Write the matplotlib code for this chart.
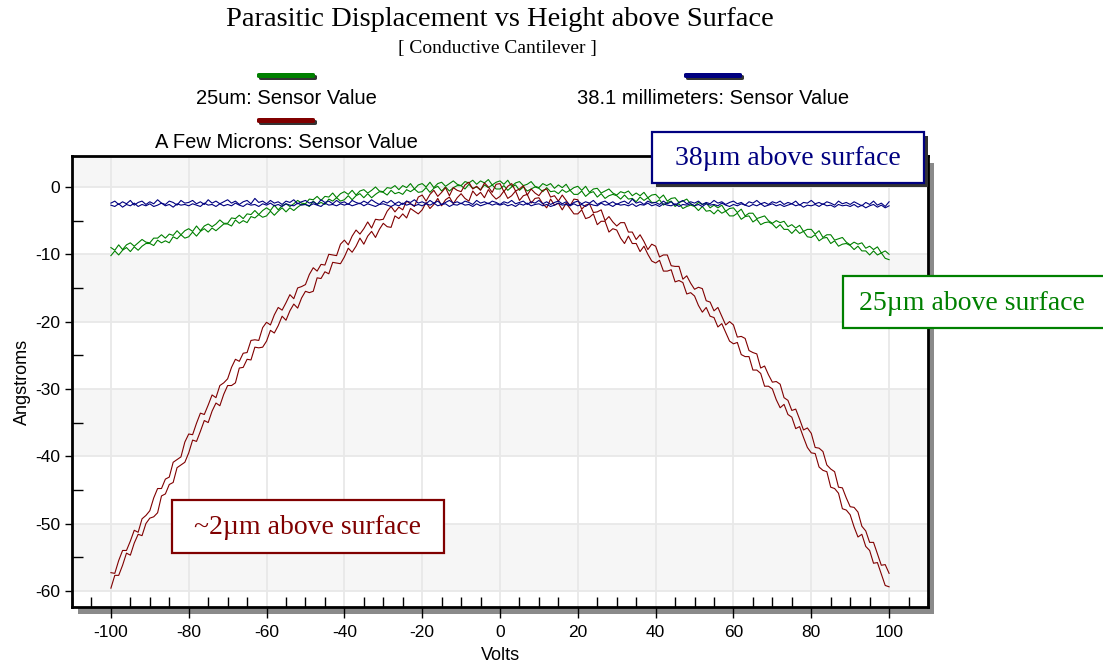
import numpy as np
import matplotlib
matplotlib.use("Agg")
import matplotlib.pyplot as plt
from matplotlib.patches import Rectangle, FancyBboxPatch
from matplotlib.ticker import MultipleLocator

# sweep voltage, one reading per volt
volts = np.arange(-100, 101, 1)

# 38.1 mm above surface (two sweeps)
blue_a = [-2.4, -2.1, -2.6, -2.2, -2.5, -2.0, -2.7, -2.3, -2.1, -2.6,
          -2.2, -2.5, -1.9, -2.4, -2.6, -2.1, -2.3, -2.7, -2.0, -2.4,
          -2.3, -2.0, -2.5, -2.2, -2.6, -1.9, -2.4, -2.1, -2.5, -2.2,
          -1.9, -2.4, -2.1, -2.6, -2.2, -2.0, -2.5, -1.7, -2.3, -2.1,
          -2.5, -2.0, -2.4, -2.2, -2.6, -2.1, -2.3, -1.9, -2.5, -2.2,
          -2.0, -2.4, -2.2, -2.6, -1.9, -2.3, -2.1, -2.5, -2.0, -2.4,
          -2.2, -2.6, -2.0, -2.3, -2.5, -2.1, -2.4, -1.9, -2.3, -2.6,
          -2.1, -2.4, -2.0, -2.5, -2.2, -2.6, -2.1, -2.3, -1.9, -2.4,
          -2.2, -2.5, -2.0, -2.4, -2.1, -2.6, -2.3, -2.0, -2.4, -2.2,
          -2.5, -2.1, -2.3, -2.6, -2.0, -2.4, -2.2, -2.5, -2.1, -2.3,
          -2.6, -2.2, -2.4, -2.0, -2.5, -2.3, -2.1, -2.6, -2.2, -2.4,
          -2.0, -2.5, -2.2, -2.6, -2.3, -2.1, -2.5, -2.2, -2.7, -2.3,
          -2.1, -2.5, -2.2, -2.4, -2.0, -2.6, -2.3, -2.1, -2.5, -2.2,
          -2.6, -2.3, -2.1, -2.5, -1.8, -2.4, -2.2, -2.6, -2.1, -2.4,
          -2.3, -2.6, -2.1, -2.5, -2.2, -2.7, -2.3, -2.0, -2.5, -2.2,
          -2.4, -2.1, -2.6, -2.3, -2.5, -2.0, -2.4, -2.2, -2.6, -2.3,
          -2.1, -2.5, -2.3, -2.7, -2.2, -2.4, -2.0, -2.5, -2.3, -2.6,
          -2.2, -2.4, -2.1, -2.6, -2.3, -2.5, -2.1, -2.7, -2.3, -2.4,
          -2.0, -2.5, -2.3, -2.6, -2.2, -2.4, -2.7, -2.1, -2.5, -2.3,
          -2.6, -2.2, -2.5, -2.8, -2.3, -2.6, -2.1, -2.7, -2.4, -2.9,
          -2.2]
blue_b = [-2.7, -2.9, -2.5, -3.0, -2.6, -2.8, -2.4, -2.9, -2.6, -2.8,
          -2.5, -2.9, -2.7, -2.4, -2.8, -2.6, -3.0, -2.5, -2.7, -2.6,
          -2.8, -2.5, -2.7, -2.9, -2.4, -2.7, -2.6, -2.9, -2.5, -2.8,
          -2.6, -2.8, -2.4, -2.7, -2.9, -2.5, -2.7, -2.6, -2.9, -2.5,
          -2.7, -2.4, -2.8, -2.6, -2.9, -2.5, -2.7, -2.8, -2.4, -2.7,
          -2.6, -2.8, -2.5, -2.7, -2.9, -2.4, -2.7, -2.6, -2.8, -2.5,
          -2.7, -2.5, -2.8, -2.6, -2.4, -2.8, -2.5, -2.7, -2.9, -2.6,
          -2.5, -2.7, -2.9, -2.6, -2.8, -2.4, -2.7, -2.5, -2.8, -2.6,
          -2.8, -2.5, -2.7, -2.4, -2.8, -2.6, -2.5, -2.9, -2.6, -2.7,
          -2.4, -2.7, -2.6, -2.9, -2.5, -2.8, -2.6, -2.4, -2.7, -2.5,
          -2.7, -2.5, -2.8, -2.6, -2.9, -2.5, -2.7, -2.4, -2.8, -2.6,
          -2.5, -2.8, -2.6, -2.9, -2.7, -2.4, -2.7, -2.6, -2.8, -2.5,
          -2.8, -2.6, -2.9, -2.5, -2.7, -2.8, -2.4, -2.7, -2.6, -2.9,
          -2.5, -2.7, -2.6, -2.8, -2.5, -2.9, -2.6, -2.7, -2.4, -2.8,
          -2.6, -2.9, -2.5, -2.7, -2.8, -2.5, -2.9, -2.6, -2.7, -2.5,
          -2.8, -2.6, -2.9, -2.5, -2.7, -2.6, -2.8, -2.4, -2.7, -2.9,
          -2.6, -2.8, -2.5, -2.7, -2.9, -2.6, -2.8, -2.5, -2.9, -2.7,
          -2.5, -2.8, -2.6, -2.9, -2.7, -2.5, -2.8, -2.6, -3.0, -2.7,
          -2.8, -2.6, -2.9, -2.5, -2.8, -2.7, -3.0, -2.6, -2.8, -2.7,
          -2.9, -2.6, -3.0, -2.7, -3.1, -2.8, -2.6, -3.0, -2.7, -3.1,
          -2.8]

# 25 um above surface
green_a = [-9.0, -9.4, -8.6, -9.3, -8.6, -8.3, -8.8, -8.3, -7.8, -8.2,
           -8.3, -7.6, -7.6, -7.1, -7.6, -7.0, -7.2, -6.5, -7.1, -6.5,
           -6.2, -6.6, -5.8, -6.5, -5.8, -5.5, -5.9, -5.5, -4.9, -5.4,
           -5.4, -4.6, -4.7, -4.2, -4.7, -4.0, -4.1, -3.5, -4.1, -3.5,
           -3.1, -3.5, -2.7, -3.4, -2.8, -2.5, -2.9, -2.5, -2.0, -2.4,
           -2.5, -1.8, -1.9, -1.4, -2.0, -1.4, -1.5, -0.9, -1.6, -1.0,
           -0.7, -1.1, -0.5, -1.2, -0.6, -0.4, -0.9, -0.5, 0.0, -0.6,
           -0.7, -0.1, -0.2, 0.2, -0.4, 0.2, -0.1, 0.5, -0.3, 0.3,
           0.5, 0.0, 0.7, -0.1, 0.5, 0.7, 0.1, 0.5, 0.9, 0.4,
           0.2, 0.8, 0.6, 1.0, 0.4, 0.9, 0.6, 1.1, 0.3, 0.7,
           0.9, 0.4, 1.0, 0.1, 0.6, 0.8, 0.2, 0.4, 0.8, 0.1,
           -0.1, 0.5, 0.2, 0.5, -0.2, 0.3, -0.1, 0.4, -0.5, -0.1,
           0.1, -0.5, 0.1, -0.8, -0.3, -0.2, -0.9, -0.6, -0.3, -0.9,
           -1.2, -0.7, -0.9, -0.6, -1.3, -0.9, -1.3, -0.8, -1.6, -1.2,
           -1.1, -1.7, -1.2, -2.1, -1.7, -1.6, -2.3, -2.1, -1.8, -2.5,
           -2.8, -2.3, -2.6, -2.4, -3.1, -2.7, -3.1, -2.7, -3.6, -3.2,
           -3.1, -3.8, -3.3, -4.3, -3.9, -3.9, -4.7, -4.5, -4.3, -5.0,
           -5.4, -5.0, -5.3, -5.1, -5.9, -5.6, -6.1, -5.7, -6.6, -6.3,
           -6.3, -7.0, -6.5, -7.5, -7.1, -7.1, -7.9, -7.7, -7.5, -8.2,
           -8.6, -8.2, -8.5, -8.3, -9.1, -8.8, -9.3, -8.9, -9.8, -9.5,
           -10.0]
green_b = [-10.2, -9.5, -10.1, -9.4, -9.0, -9.6, -8.9, -9.4, -8.8, -8.4,
           -8.4, -8.7, -7.9, -8.3, -8.0, -8.3, -7.4, -7.7, -7.1, -7.6,
           -7.4, -6.7, -7.3, -6.6, -6.2, -6.7, -6.1, -6.5, -6.0, -5.5,
           -5.5, -5.8, -4.9, -5.4, -5.0, -5.3, -4.4, -4.6, -4.1, -4.5,
           -4.3, -3.6, -4.2, -3.6, -3.1, -3.7, -3.1, -3.5, -3.0, -2.6,
           -2.6, -2.9, -2.1, -2.6, -2.3, -2.6, -1.8, -2.1, -1.6, -2.1,
           -1.9, -1.3, -1.9, -1.3, -1.0, -1.6, -1.0, -1.6, -1.1, -0.7,
           -0.8, -1.2, -0.5, -1.0, -0.8, -1.1, -0.4, -0.7, -0.3, -0.8,
           -0.7, -0.1, -0.8, -0.2, 0.1, -0.6, 0.0, -0.6, -0.1, 0.2,
           0.2, -0.3, 0.4, -0.2, 0.0, -0.4, 0.3, -0.1, 0.3, -0.3,
           -0.3, 0.2, -0.5, 0.0, 0.3, -0.5, 0.0, -0.6, -0.3, 0.0,
           -0.2, -0.7, -0.1, -0.7, -0.6, -1.0, -0.4, -0.8, -0.5, -1.1,
           -1.1, -0.6, -1.4, -0.9, -0.7, -1.5, -1.0, -1.7, -1.3, -1.1,
           -1.3, -1.8, -1.2, -1.8, -1.7, -2.2, -1.5, -2.0, -1.6, -2.3,
           -2.3, -1.9, -2.7, -2.3, -2.1, -2.9, -2.5, -3.2, -2.9, -2.7,
           -2.9, -3.5, -2.9, -3.6, -3.5, -4.0, -3.4, -3.9, -3.6, -4.3,
           -4.3, -3.9, -4.8, -4.4, -4.3, -5.2, -4.8, -5.6, -5.3, -5.2,
           -5.5, -6.1, -5.6, -6.3, -6.3, -6.9, -6.3, -6.9, -6.6, -7.4,
           -7.5, -7.1, -8.0, -7.6, -7.5, -8.4, -8.0, -8.8, -8.5, -8.4,
           -8.7, -9.3, -8.8, -9.5, -9.5, -10.1, -9.5, -10.1, -9.8, -10.6,
           -10.8]

# a few microns above surface
red_a = [-57.3, -57.4, -55.5, -54.0, -54.0, -52.6, -51.0, -51.3, -49.3, -48.8,
         -48.1, -46.2, -44.8, -44.8, -43.4, -43.1, -40.9, -40.5, -40.1, -37.9,
         -36.7, -36.8, -35.1, -33.6, -33.8, -32.4, -30.9, -31.3, -29.5, -29.1,
         -28.5, -26.8, -25.6, -25.9, -24.7, -24.6, -22.8, -22.7, -22.8, -20.9,
         -20.1, -20.5, -19.0, -17.9, -18.3, -17.2, -16.0, -16.6, -15.0, -14.8,
         -14.5, -13.0, -12.0, -12.5, -11.5, -11.6, -10.0, -10.1, -10.2, -8.5,
         -7.9, -8.6, -7.3, -6.4, -7.0, -6.2, -5.2, -6.1, -4.8, -4.9,
         -4.8, -3.6, -2.9, -3.7, -3.0, -3.4, -2.1, -2.5, -2.9, -1.5,
         -1.2, -2.1, -1.1, -0.5, -1.4, -0.8, -0.1, -1.3, -0.1, -0.5,
         -0.7, 0.3, 0.7, -0.3, 0.1, -0.5, 0.6, 0.0, -0.8, 0.4,
         0.5, -0.7, 0.1, 0.5, -0.6, -0.3, 0.2, -1.2, -0.3, -0.9,
         -1.3, -0.5, -0.3, -1.5, -1.3, -2.1, -1.2, -2.0, -2.8, -1.8,
         -1.9, -3.3, -2.7, -2.5, -3.8, -3.7, -3.4, -5.0, -4.4, -5.2,
         -5.8, -5.3, -5.3, -6.7, -6.7, -7.8, -7.1, -8.1, -9.3, -8.5,
         -8.8, -10.4, -10.1, -10.1, -11.7, -11.8, -11.8, -13.7, -13.2, -14.3,
         -15.2, -14.9, -15.1, -16.9, -17.1, -18.4, -17.9, -19.2, -20.5, -20.0,
         -20.5, -22.3, -22.2, -22.5, -24.3, -24.6, -24.8, -26.9, -26.6, -27.9,
         -29.0, -28.9, -29.3, -31.3, -31.7, -33.2, -33.0, -34.5, -36.1, -35.8,
         -36.6, -38.7, -38.8, -39.3, -41.3, -41.9, -42.3, -44.6, -44.7, -46.2,
         -47.5, -47.6, -48.3, -50.4, -51.1, -52.8, -52.8, -54.5, -56.2, -56.1,
         -57.4]
red_b = [-59.6, -57.7, -57.7, -56.2, -54.4, -54.7, -52.9, -51.6, -51.8, -50.0,
         -49.2, -49.0, -48.4, -45.9, -45.6, -44.2, -43.9, -41.7, -41.3, -40.9,
         -39.5, -37.6, -37.8, -36.3, -34.7, -35.0, -33.3, -32.1, -32.5, -30.8,
         -29.5, -29.5, -29.1, -26.9, -26.8, -25.6, -25.7, -23.8, -23.9, -23.8,
         -22.9, -21.3, -21.7, -20.6, -19.2, -19.8, -18.4, -17.4, -18.0, -16.5,
         -15.5, -15.7, -15.5, -13.5, -13.6, -12.6, -12.9, -11.2, -11.3, -11.4,
         -10.4, -9.1, -9.7, -8.8, -7.6, -8.5, -7.3, -6.6, -7.5, -6.3,
         -5.4, -5.9, -6.0, -4.3, -4.7, -4.0, -4.6, -3.2, -3.6, -4.0,
         -3.4, -2.3, -3.2, -2.6, -1.7, -2.8, -1.9, -1.5, -2.5, -1.6,
         -1.0, -1.7, -2.1, -0.6, -1.3, -0.8, -1.6, -0.4, -1.2, -1.8,
         -1.4, -0.6, -1.7, -1.3, -0.6, -2.0, -1.3, -1.1, -2.4, -1.7,
         -1.6, -2.5, -3.1, -1.8, -2.7, -2.4, -3.4, -2.4, -3.2, -4.0,
         -4.0, -3.4, -4.7, -4.5, -4.0, -5.6, -5.1, -5.1, -6.7, -6.2,
         -6.4, -7.6, -8.4, -7.3, -8.4, -8.4, -9.6, -8.8, -10.0, -11.0,
         -11.3, -10.9, -12.5, -12.5, -12.3, -14.1, -13.9, -14.2, -15.9, -15.7,
         -16.2, -17.6, -18.6, -17.9, -19.2, -19.4, -20.8, -20.3, -21.6, -22.9,
         -23.3, -23.1, -24.9, -25.2, -25.2, -27.2, -27.2, -27.7, -29.6, -29.6,
         -30.0, -31.6, -32.8, -32.3, -33.8, -34.2, -35.9, -35.6, -37.2, -38.7,
         -39.5, -39.6, -41.6, -42.1, -42.3, -44.6, -44.8, -45.5, -47.8, -48.0,
         -48.7, -50.5, -52.0, -51.6, -53.4, -54.0, -55.9, -55.8, -57.5, -59.2,
         -59.4]

GREEN = '#008000'
BLUE = '#000080'
RED = '#800000'

W, H = 1103, 662


def fx(x):
    return x / W


def fy(y):
    return 1 - y / H


plt.rcParams['font.family'] = ['Liberation Sans', 'DejaVu Sans']
plt.rcParams['axes.unicode_minus'] = False

fig = plt.figure(figsize=(W / 100, H / 100), dpi=100)
ax = fig.add_axes([fx(72), fy(607), (928 - 72) / W, (607 - 156) / H])

# drop shadow behind the plot frame
fig.add_artist(Rectangle((fx(78), fy(614)), (928 - 72) / W, (607 - 156) / H,
                         transform=fig.transFigure, facecolor='#8a8a8a',
                         edgecolor='none', zorder=-1))

for lo, hi in [(0, 5), (-20, -10), (-40, -30), (-60, -50)]:
    ax.axhspan(lo, hi, color='#f6f6f6', zorder=0, lw=0)

ax.plot(volts, green_a, color=GREEN, lw=0.8, label='25um: Sensor Value')
ax.plot(volts, green_b, color=GREEN, lw=0.8)
ax.plot(volts, red_a, color=RED, lw=0.8, label='A Few Microns: Sensor Value')
ax.plot(volts, red_b, color=RED, lw=0.8)
ax.plot(volts, blue_a, color=BLUE, lw=0.8, label='38.1 millimeters: Sensor Value')
ax.plot(volts, blue_b, color=BLUE, lw=0.8)

ax.set_xlim(-110, 110)
ax.set_ylim(-62.4, 4.6)
ax.set_xticks(range(-100, 101, 20))
ax.set_yticks(range(-60, 1, 10))
ax.xaxis.set_minor_locator(MultipleLocator(5))
ax.yaxis.set_minor_locator(MultipleLocator(5))
ax.grid(True, which='major', color='#e8e8e8', lw=1.3, zorder=0.5)
ax.set_axisbelow(True)
ax.tick_params(axis='x', which='major', direction='out', length=8, width=1,
               labelsize=12.5, pad=5)
ax.tick_params(axis='x', which='minor', direction='in', length=7, width=1)
ax.tick_params(axis='y', which='major', direction='out', length=5, width=1,
               labelsize=12.5)
ax.tick_params(axis='y', which='minor', direction='in', length=8, width=1)
for s in ax.spines.values():
    s.set_linewidth(2)
ax.set_xlabel('Volts', fontsize=13, labelpad=5)
ax.set_ylabel('Angstroms', fontsize=13, labelpad=3)

# titles
fig.text(fx(500), fy(20), 'Parasitic Displacement vs Height above Surface',
         family='Liberation Serif', fontsize=20.5, ha='center', va='center')
fig.text(fx(497), fy(48), '[ Conductive Cantilever ]',
         family='Liberation Serif', fontsize=14, ha='center', va='center')

# legend: swatch above each label
handles, labels = ax.get_legend_handles_labels()
legend_pos = {'25um: Sensor Value': (286, 75, 98),
              '38.1 millimeters: Sensor Value': (713, 75, 98),
              'A Few Microns: Sensor Value': (286, 120, 142)}
for h, lab in zip(handles, labels):
    cx, by, ty = legend_pos[lab]
    fig.add_artist(FancyBboxPatch((fx(cx - 27), fy(by + 5)), 58 / W, 5 / H,
                                  boxstyle='round,pad=0,rounding_size=0.002',
                                  transform=fig.transFigure, facecolor='#333333',
                                  edgecolor='none'))
    fig.add_artist(FancyBboxPatch((fx(cx - 29), fy(by + 3)), 58 / W, 5 / H,
                                  boxstyle='round,pad=0,rounding_size=0.002',
                                  transform=fig.transFigure,
                                  facecolor=h.get_color(), edgecolor='none'))
    fig.text(fx(cx), fy(ty), lab, fontsize=14.5, ha='center', va='center')

# callout boxes
callouts = [('38\u00b5m above surface', BLUE, (652, 132, 924, 183), 788),
            ('25\u00b5m above surface', GREEN, (843, 276, 1110, 328), 972),
            ('~2\u00b5m above surface', RED, (172, 500, 444, 553), 308)]
for txt, col, (x0, y0, x1, y1), tx in callouts:
    if col == BLUE:
        fig.add_artist(Rectangle((fx(x0 + 4), fy(y1 + 4)), (x1 - x0) / W,
                                 (y1 - y0) / H, transform=fig.transFigure,
                                 facecolor='#333333', edgecolor='none', zorder=3))
    fig.add_artist(Rectangle((fx(x0), fy(y1)), (x1 - x0) / W, (y1 - y0) / H,
                             transform=fig.transFigure, facecolor='white',
                             edgecolor=col, lw=1.6, zorder=4))
    fig.text(fx(tx), fy((y0 + y1) / 2 + 1), txt,
             family='Liberation Serif', fontsize=20, color=col,
             ha='center', va='center', zorder=5)

fig.savefig('out.png', dpi=100)
